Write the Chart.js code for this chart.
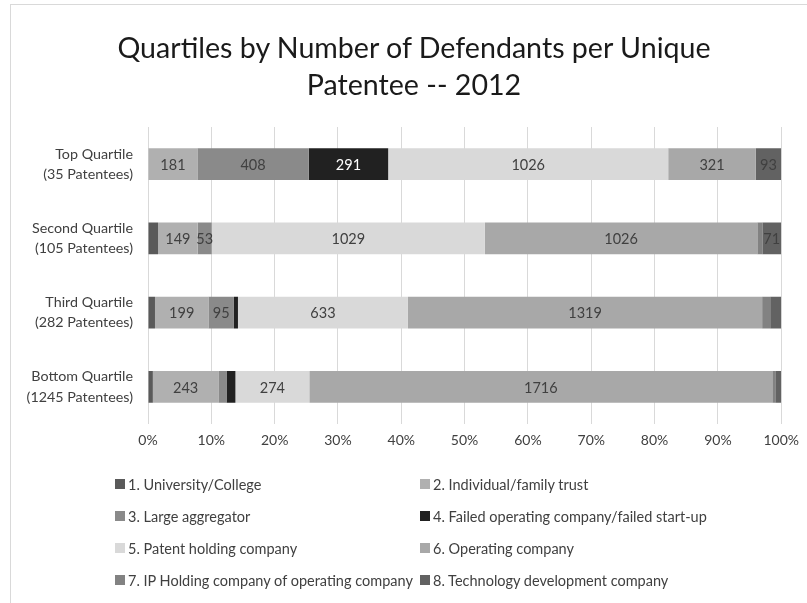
<!DOCTYPE html>
<html>
<head>
<meta charset="utf-8">
<script src="https://cdn.jsdelivr.net/npm/chart.js@4/dist/chart.umd.min.js"></script>
<style>
  body { margin: 0; background: #fff; }
  #wrap { position: relative; width: 807px; height: 603px; overflow: hidden; }
  #frame { position: absolute; left: 10px; top: 4px; width: 820px; height: 620px; border: 1px solid #d9d9d9; box-sizing: border-box; }
  canvas { position: absolute; left: 0; top: 0; }
  #title { position: absolute; left: 0; width: 828px; top: 29px; text-align: center; font-family: Lato, sans-serif; font-size: 28.6px; line-height: 37px; color: #1a1a1a; }
  #legend { position: absolute; left: 115px; top: 473px; display: grid; grid-template-columns: 305px 300px; grid-auto-rows: 32px; font-family: Lato, sans-serif; font-size: 14.5px; color: #404040; }
  #legend div { display: flex; align-items: center; height: 22px; white-space: nowrap; }
  #legend span { display: inline-block; width: 10px; height: 10px; margin-right: 3px; }
</style>
</head>
<body>
<div id="wrap">
  <div id="frame"></div>
  <canvas id="chart" width="807" height="603"></canvas>
  <div id="title">Quartiles by Number of Defendants per Unique<br>Patentee -- 2012</div>
  <div id="legend"></div>
</div>
<script>
// categories (quartiles)
const quartiles = [
  ['Top Quartile', '(35 Patentees)'],
  ['Second Quartile', '(105 Patentees)'],
  ['Third Quartile', '(282 Patentees)'],
  ['Bottom Quartile', '(1245 Patentees)']
];

// number of defendants per patentee type, by quartile (top, second, third, bottom)
const university = [0, 38, 26, 18];
const individual = [181, 149, 199, 243];
const aggregator = [408, 53, 95, 30];
const failedCo = [291, 0, 15, 33];
const holdingCo = [1026, 1029, 633, 274];
const operatingCo = [321, 1026, 1319, 1716];
const ipHolding = [0, 19, 30, 11];
const techDev = [93, 71, 41, 22];

const seriesNames = [
  '1. University/College',
  '2. Individual/family trust',
  '3. Large aggregator',
  '4. Failed operating company/failed start-up',
  '5. Patent holding company',
  '6. Operating company',
  '7. IP Holding company of operating company',
  '8. Technology development company'
];
const seriesValues = [university, individual, aggregator, failedCo, holdingCo, operatingCo, ipHolding, techDev];
const seriesColors = ['#5a5a5a', '#b0b0b0', '#8a8a8a', '#212121', '#d9d9d9', '#a8a8a8', '#828282', '#626262'];
const xTicks = ['0%', '10%', '20%', '30%', '40%', '50%', '60%', '70%', '80%', '90%', '100%'];

// totals per quartile -> 100% stacked
const totals = quartiles.map((q, i) => seriesValues.reduce((s, arr) => s + arr[i], 0));

const datasets = seriesValues.map((vals, k) => ({
  label: seriesNames[k],
  data: vals.map((v, i) => v / totals[i] * 100),
  counts: vals,
  backgroundColor: seriesColors[k],
  borderWidth: 0,
  categoryPercentage: 1,
  barPercentage: 0.43
}));

// count labels inside the segments
const segLabels = {
  id: 'segLabels',
  afterDatasetsDraw(chart) {
    const { ctx } = chart;
    ctx.save();
    ctx.font = '14.5px Lato';
    ctx.textAlign = 'center';
    ctx.textBaseline = 'middle';
    chart.data.datasets.forEach((ds, k) => {
      chart.getDatasetMeta(k).data.forEach((bar, i) => {
        const n = ds.counts[i];
        if (n < 50) return;
        ctx.fillStyle = k === 3 ? '#ffffff' : '#404040';
        const cx = (bar.x + bar.base) / 2;
        ctx.fillText(n, cx, bar.y + 1);
      });
    });
    ctx.restore();
  }
};

const chart = new Chart(document.getElementById('chart'), {
  type: 'bar',
  data: { labels: quartiles, datasets: datasets },
  options: {
    indexAxis: 'y',
    responsive: false,
    animation: false,
    layout: { padding: { left: 0, right: 25, top: 127, bottom: 149 } },
    plugins: {
      legend: { display: false },
      tooltip: { enabled: false }
    },
    scales: {
      x: {
        stacked: true,
        min: 0,
        max: 100,
        grid: { color: '#d9d9d9', drawTicks: false },
        border: { display: false },
        afterFit: (s) => { s.height = 30; },
        ticks: {
          stepSize: 10,
          padding: 8,
          color: '#404040',
          font: { family: 'Lato', size: 14 },
          callback: (v, i) => xTicks[i]
        }
      },
      y: {
        stacked: true,
        grid: { display: false },
        border: { display: false },
        afterFit: (s) => { s.width = 148; },
        ticks: {
          padding: 7,
          color: '#404040',
          font: { family: 'Lato', size: 14.3, lineHeight: 1.4 }
        }
      }
    }
  },
  plugins: [segLabels]
});

// legend, two columns
const legendEl = document.getElementById('legend');
seriesNames.forEach((name, k) => {
  const item = document.createElement('div');
  item.innerHTML = '<span style="background:' + seriesColors[k] + '"></span>' + name;
  legendEl.appendChild(item);
});
</script>
</body>
</html>
